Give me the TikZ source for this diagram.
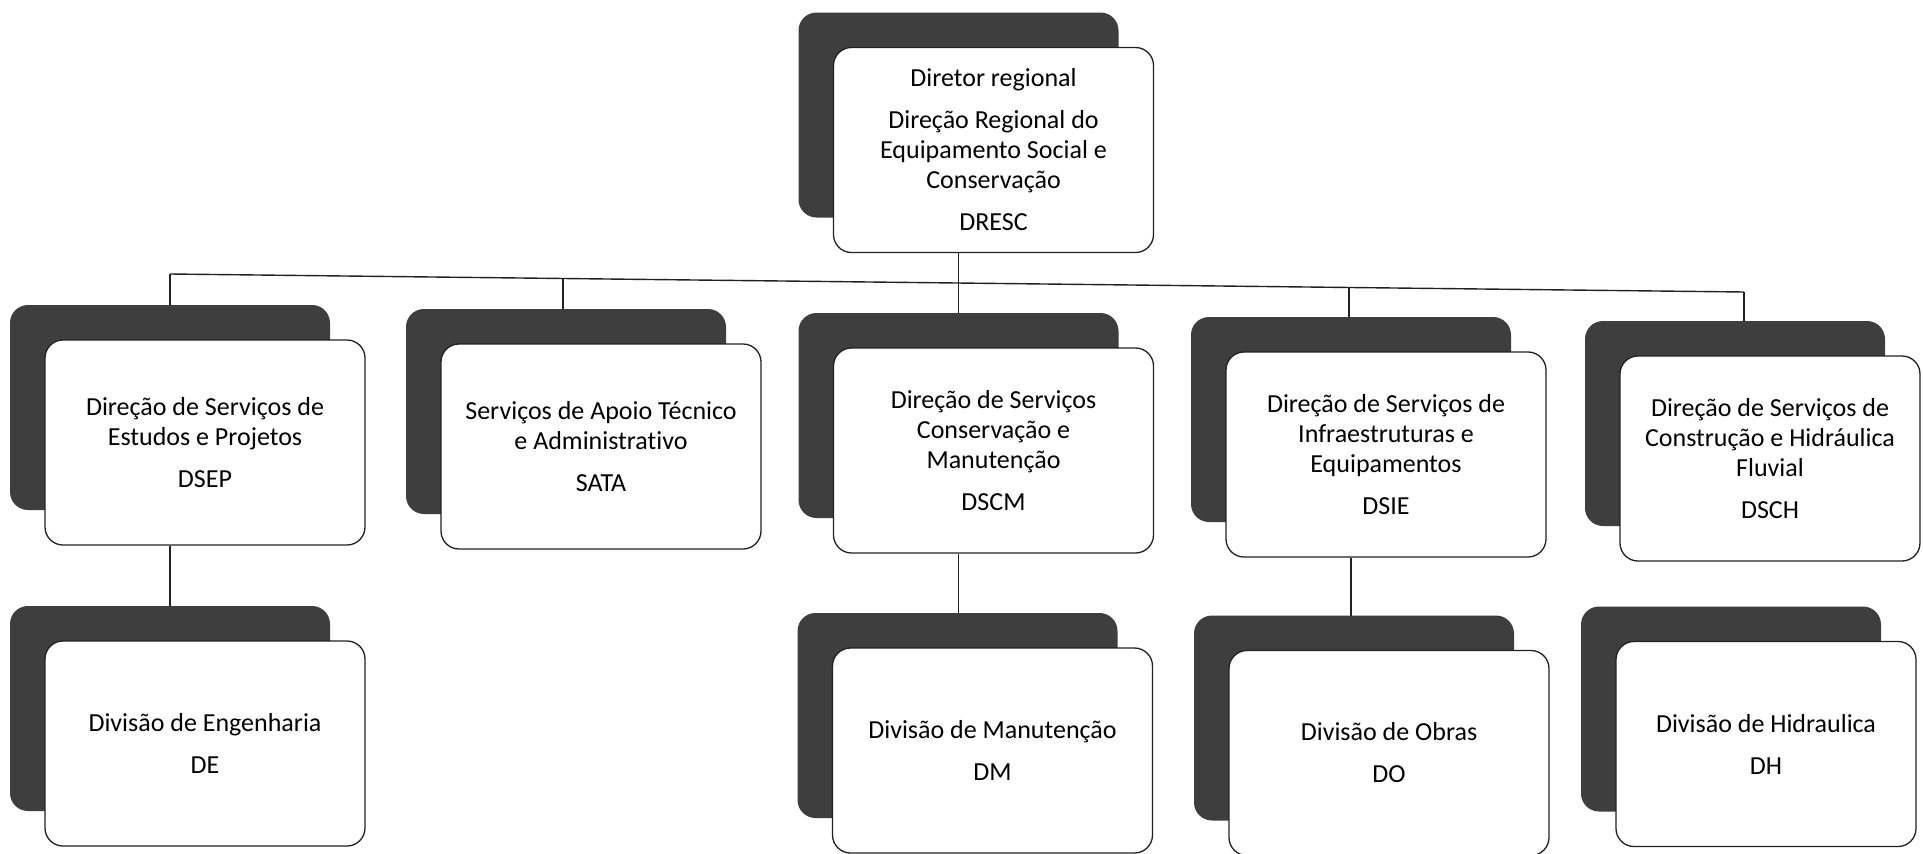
\documentclass[tikz,border=0pt]{standalone}
\usepackage{fontspec}
\setmainfont{Carlito}[Ligatures=NoCommon]
\usetikzlibrary{shadows}
\pgfdeclarelayer{bg}
\pgfsetlayers{bg,main}
\definecolor{shadowgray}{HTML}{3E3E3E}
\definecolor{inkline}{HTML}{222222}
\tikzset{
  orgbox/.style={draw=inkline, line width=1.3pt, rounded corners=18pt, fill=white,
    align=center, minimum width=320pt, minimum height=205pt, inner sep=0pt,
    general shadow={shadow xshift=-35pt, shadow yshift=35pt, fill=shadowgray, draw=none},
    font=\fontsize{26pt}{30pt}\selectfont},
  narrowbox/.style={orgbox, minimum width=300pt},
  link/.style={draw=inkline, line width=1.4pt}
}
\begin{document}
\begin{tikzpicture}[x=1pt, y=-1pt]
\path[use as bounding box] (0,0) rectangle (1923,854);

\node[orgbox] (dresc) at (993.5,150) {Diretor regional\\[12pt]Direção Regional do\\Equipamento Social e\\Conservação\\[12pt]DRESC};

\node[orgbox] (dsep) at (205,442.5) {Direção de Serviços de\\Estudos e Projetos\\[12pt]DSEP};
\node[orgbox] (sata) at (601,446.5) {Serviços de Apoio Técnico\\e Administrativo\\[12pt]SATA};
\node[orgbox] (dscm) at (993.5,450.5) {Direção de Serviços\\Conservação e\\Manutenção\\[12pt]DSCM};
\node[orgbox] (dsie) at (1386,454.5) {Direção de Serviços de\\Infraestruturas e\\Equipamentos\\[12pt]DSIE};
\node[narrowbox] (dsch) at (1770,458.5) {Direção de Serviços de\\Construção e Hidráulica\\Fluvial\\[12pt]DSCH};

\node[orgbox] (de) at (205,743.5) {Divisão de Engenharia\\[12pt]DE};
\node[orgbox] (dm) at (992.5,750.5) {Divisão de Manutenção\\[12pt]DM};
\node[orgbox] (dobr) at (1389,753) {Divisão de Obras\\[12pt]DO};
\node[narrowbox] (dh) at (1766,744) {Divisão de Hidraulica\\[12pt]DH};

\coordinate (b1) at (170,274);
\coordinate (b2) at (563,279);
\coordinate (b3) at (956,283);
\coordinate (b4) at (1349,287.5);
\coordinate (b5) at (1744,292);
\coordinate (t1) at ([xshift=-35pt]dresc.south);
\coordinate (t2) at ([xshift=-35pt]dsep.south);
\coordinate (t3) at ([xshift=-35pt]dscm.south);
\coordinate (t4) at ([xshift=-35pt]dsie.south);

\begin{pgfonlayer}{bg}
\fill[white] (0,0) rectangle (1923,854);
\draw[link] (b1) -- (b5);
\draw[link] (b1) -- (b1 |- dsep.north);
\draw[link] (b2) -- (b2 |- sata.north);
\draw[link] (t1) -- (t1 |- dscm.north);
\draw[link] (b4) -- (b4 |- dsie.north);
\draw[link] (b5) -- (b5 |- dsch.north);
\draw[link] (t2) -- (t2 |- de.north);
\draw[link] (t3) -- (t3 |- dm.north);
\draw[link] (t4) -- (t4 |- dobr.north);
\end{pgfonlayer}
\end{tikzpicture}
\end{document}
